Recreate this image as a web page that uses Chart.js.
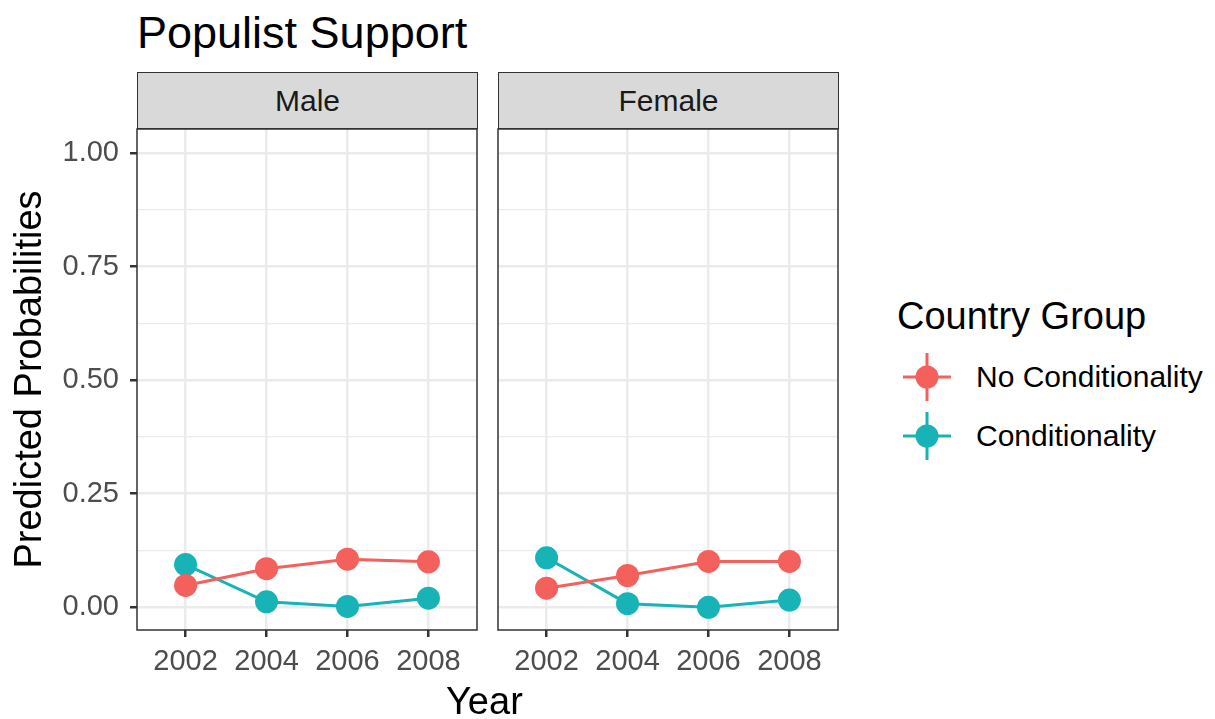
<!DOCTYPE html>
<html>
<head>
<meta charset="utf-8">
<script src="https://cdn.jsdelivr.net/npm/chart.js@4.4.0/dist/chart.umd.min.js"></script>
<style>
  body{margin:0;background:#fff;font-family:"Liberation Sans",Arial,Helvetica,sans-serif;}
  #wrap{position:relative;width:1215px;height:719px;overflow:hidden;}
  canvas{position:absolute;top:0;}
  .txt{position:absolute;white-space:nowrap;line-height:1;}
  .strip{position:absolute;top:72px;height:57px;background:#D9D9D9;border:1.5px solid #333;box-sizing:border-box;
    display:flex;align-items:center;justify-content:center;font-size:30px;color:#1A1A1A;}
</style>
</head>
<body>
<div id="wrap">
  <div class="txt" style="left:137px;top:10px;font-size:45px;color:#000;">Populist Support</div>
  <div class="strip" style="left:137px;width:341px;">Male</div>
  <div class="strip" style="left:498px;width:341px;">Female</div>
  <canvas id="maleChart" width="480" height="719" style="left:0"></canvas>
  <canvas id="femaleChart" width="360" height="719" style="left:480px"></canvas>
  <div class="txt" style="left:446px;top:682px;font-size:38px;color:#000;">Year</div>
  <div id="legend"></div>
</div>
<script>
/* ---------- DATA ---------- */
const years = [2002, 2004, 2006, 2008];
const yTicks = [0, 0.125, 0.25, 0.375, 0.5, 0.625, 0.75, 0.875, 1];
const groupLabels = ["No Conditionality", "Conditionality"];
const groupColors = ["#F4605B", "#17B3B7"];

const maleNoCond   = [0.048, 0.085, 0.106, 0.100];
const maleCond     = [0.094, 0.012, 0.002, 0.020];
const femaleNoCond = [0.042, 0.070, 0.101, 0.101];
const femaleCond   = [0.109, 0.008, 0.000, 0.016];

/* ---------- HELPERS ---------- */
const FONT = "'Liberation Sans', Arial, Helvetica, sans-serif";
const isMajor = v => Math.abs(v*4 - Math.round(v*4)) < 1e-6;
const pts = vals => vals.map((v,i)=>({x:years[i], y:v}));

const panelBorder = {
  id:"panelBorder",
  afterDraw(chart){
    const {ctx, chartArea:a} = chart;
    ctx.save();
    ctx.strokeStyle="#333"; ctx.lineWidth=1.5;
    ctx.strokeRect(a.left, a.top, a.right-a.left, a.bottom-a.top);
    ctx.restore();
  }
};

function makePanel(id, noCond, cond, showY, axisWidth, rightPad){
  const ds = [noCond, cond].map((vals,i)=>({
    label: groupLabels[i],
    data: pts(vals),
    borderColor: groupColors[i],
    backgroundColor: groupColors[i],
    borderWidth: 3,
    pointRadius: 11.5,
    pointHoverRadius: 11.5,
    pointBorderWidth: 0,
    tension: 0,
    clip: false
  }));
  return new Chart(document.getElementById(id).getContext("2d"), {
    type:"line",
    data:{datasets: ds},
    plugins:[panelBorder],
    options:{
      responsive:false,
      animation:false,
      events:[],
      layout:{autoPadding:false, padding:{top:129, right:rightPad, bottom:0, left:0}},
      plugins:{legend:{display:false}, tooltip:{enabled:false}},
      scales:{
        x:{
          type:"linear", min:2000.8, max:2009.2,
          afterBuildTicks: s => { s.ticks = years.map(v=>({value:v})); },
          afterFit: s => { s.height = 89; },
          border:{display:false},
          grid:{color:"#EBEBEB", lineWidth:2.5, tickColor:"#333", tickWidth:2.5, tickLength:7},
          ticks:{color:"#4D4D4D", font:{family:FONT, size:29}, padding:8, maxRotation:0,
                 callback: v => String(v)}
        },
        y:{
          type:"linear", min:-0.05, max:1.053,
          afterBuildTicks: s => { s.ticks = yTicks.map(v=>({value:v})); },
          afterFit: s => { s.width = axisWidth; },
          border:{display:false},
          title:{display:showY, text:"Predicted Probabilities", color:"#000",
                 font:{family:FONT, size:38}, padding:{top:8, bottom:0}},
          grid:{
            color:"#EBEBEB",
            lineWidth: c => isMajor(c.tick.value) ? 2.5 : 1.2,
            drawTicks: showY,
            tickColor: c => isMajor(c.tick.value) ? "#333" : "rgba(0,0,0,0)",
            tickWidth:2.5, tickLength:7
          },
          ticks:{display:showY, color:"#4D4D4D", font:{family:FONT, size:29}, padding:11,
                 callback: v => isMajor(v) ? v.toFixed(2) : ""}
        }
      }
    }
  });
}

makePanel("maleChart", maleNoCond, maleCond, true, 137, 3);
makePanel("femaleChart", femaleNoCond, femaleCond, false, 18, 2);

/* ---------- LEGEND ---------- */
const legend = document.getElementById("legend");
let html = `<div class="txt" style="left:897px;top:297px;font-size:38px;color:#000;">Country Group</div>`;
groupLabels.forEach((lab,i)=>{
  const cy = 377 + i*59;
  const c = groupColors[i];
  html += `<svg style="position:absolute;left:900px;top:${cy-26}px" width="54" height="52">
      <line x1="3" y1="26" x2="51" y2="26" stroke="${c}" stroke-width="3"/>
      <line x1="27" y1="2" x2="27" y2="50" stroke="${c}" stroke-width="3"/>
      <circle cx="27" cy="26" r="11.5" fill="${c}"/></svg>`;
  html += `<div class="txt" style="left:976px;top:${cy-15}px;font-size:30px;color:#000;">${lab}</div>`;
});
legend.innerHTML = html;
</script>
</body>
</html>
